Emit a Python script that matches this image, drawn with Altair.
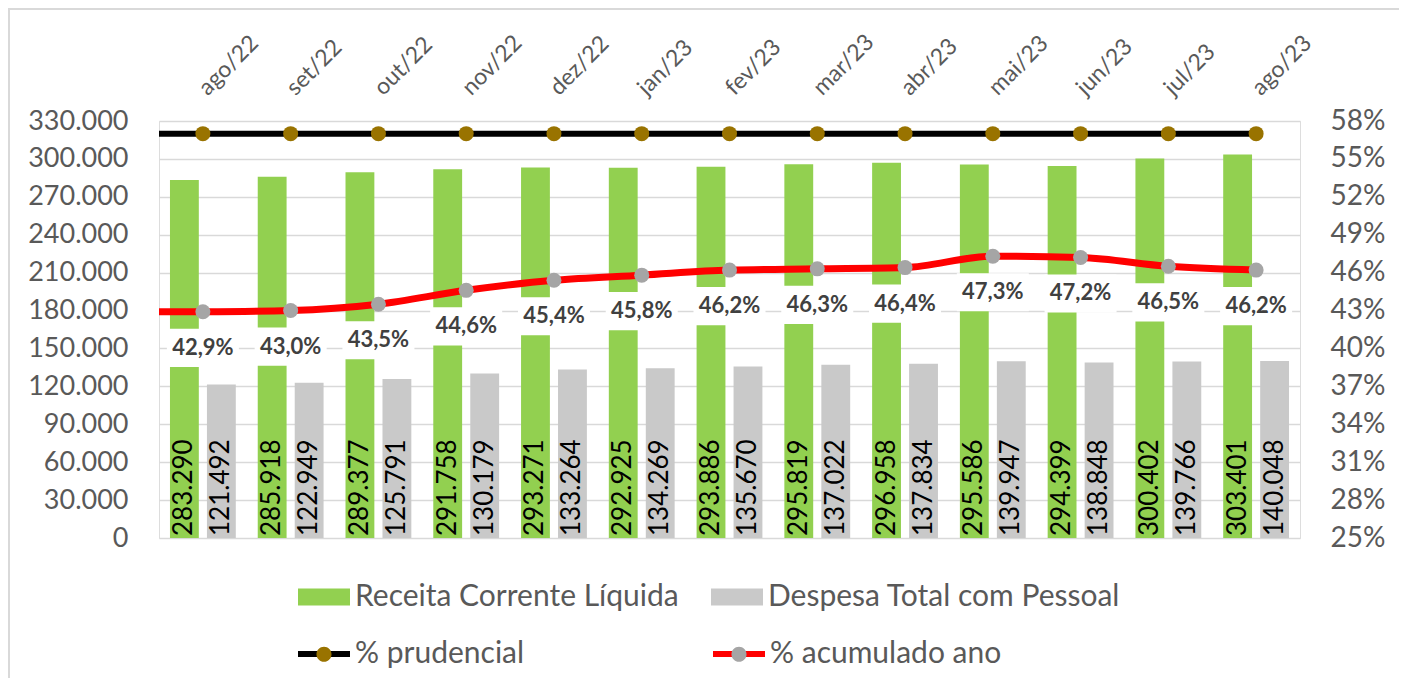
import altair as alt
import pandas as pd

# ---------------- data ----------------
meses = ["ago/22", "set/22", "out/22", "nov/22", "dez/22", "jan/23", "fev/23",
         "mar/23", "abr/23", "mai/23", "jun/23", "jul/23", "ago/23"]
rcl = [283290, 285918, 289377, 291758, 293271, 292925, 293886,
       295819, 296958, 295586, 294399, 300402, 303401]
dtp = [121492, 122949, 125791, 130179, 133264, 134269, 135670,
       137022, 137834, 139947, 138848, 139766, 140048]
pct_acumulado = [42.9, 43.0, 43.5, 44.6, 45.4, 45.8, 46.2,
                 46.3, 46.4, 47.3, 47.2, 46.5, 46.2]
pct_prudencial = [57.0, 57.0, 57.0, 57.0, 57.0, 57.0, 57.0,
                  57.0, 57.0, 57.0, 57.0, 57.0, 57.0]

serie_rcl = "Receita Corrente Líquida"
serie_dtp = "Despesa Total com Pessoal"
linha_prud = "% prudencial"
linha_acum = "% acumulado ano"

left_ticks = list(range(0, 330001, 30000))
right_ticks = [v / 100 for v in range(25, 59, 3)]


def fmt_milhar(v):
    return f"{v:,}".replace(",", ".")


def fmt_pct(v):
    return f"{v:.1f}".replace(".", ",") + "%"


bar_rows = []
for m, a, b in zip(meses, rcl, dtp):
    bar_rows.append({"mes": m, "serie": serie_rcl, "valor": a, "base": 0,
                     "rotulo": fmt_milhar(a)})
    bar_rows.append({"mes": m, "serie": serie_dtp, "valor": b, "base": 0,
                     "rotulo": fmt_milhar(b)})
bars_df = pd.DataFrame(bar_rows)

prud_df = pd.DataFrame({"mes": meses, "linha": linha_prud, "ponto": "p_prud",
                        "pct": [v / 100 for v in pct_prudencial]})
acum_df = pd.DataFrame({"mes": meses, "linha": linha_acum, "ponto": "p_acum",
                        "pct": [v / 100 for v in pct_acumulado],
                        "rotulo": [fmt_pct(v) for v in pct_acumulado]})

FONT = "Lato"
GREY_TXT = "#595959"

# ---------------- encodings ----------------
x_enc = alt.X(
    "mes:N", sort=meses,
    scale=alt.Scale(paddingInner=0.25, paddingOuter=0.125),
    axis=alt.Axis(orient="top", labelAngle=-45, labelAlign="left", labelBaseline="middle",
                  labelFontSize=23, labelColor=GREY_TXT, labelFont=FONT, labelPadding=30,
                  labelOverlap=False, ticks=False, domain=False, grid=False, title=None),
)
xoff_enc = alt.XOffset("serie:N", sort=[serie_rcl, serie_dtp],
                       scale=alt.Scale(paddingInner=0.22, paddingOuter=0))

left_scale = alt.Scale(domain=[0, 330000], nice=False, zero=True)
left_axis = alt.Axis(orient="left", values=left_ticks,
                     labelExpr="replace(format(datum.value, ','), ',', '.')",
                     grid=True, gridColor="#D9D9D9", gridWidth=1.3, domain=False, ticks=False,
                     labelOverlap=False, labelPadding=31, labelFontSize=27,
                     labelColor=GREY_TXT, labelFont=FONT, title=None)
y_left = alt.Y("valor:Q", scale=left_scale, axis=left_axis)
y_left_base = alt.Y("base:Q", scale=left_scale, axis=left_axis)

y_right = alt.Y(
    "pct:Q",
    scale=alt.Scale(domain=[0.25, 0.58], nice=False, zero=False),
    axis=alt.Axis(orient="right", values=right_ticks, format=".0%", grid=False,
                  domain=False, ticks=False, labelOverlap=False, labelPadding=30,
                  labelFontSize=28, labelColor=GREY_TXT, labelFont=FONT, title=None),
)

legend_common = dict(orient="none", direction="horizontal", title=None,
                     labelFontSize=30, labelColor=GREY_TXT, labelFont=FONT,
                     labelLimit=700, symbolSize=2704)

color_enc = alt.Color(
    "serie:N",
    scale=alt.Scale(domain=[serie_rcl, serie_dtp], range=["#92D050", "#C9C9C9"]),
    legend=alt.Legend(legendX=139, legendY=450, columnPadding=32, labelOffset=5,
                      symbolType="M-1,-0.33L1,-0.33L1,0.33L-1,0.33Z", symbolStrokeWidth=0,
                      **legend_common),
)
stroke_enc = alt.Stroke(
    "linha:N",
    scale=alt.Scale(domain=[linha_prud, linha_acum], range=["#000000", "#FF0000"]),
    legend=alt.Legend(legendX=136, legendY=504, columnPadding=176, labelOffset=2,
                      symbolType="M-1,0L1,0", symbolStrokeWidth=6,
                      symbolFillColor="transparent", **legend_common),
)
fill_enc = alt.Fill(
    "ponto:N",
    scale=alt.Scale(domain=["p_prud", "p_acum"], range=["#997300", "#A5A5A5"]),
    legend=alt.Legend(legendX=136, legendY=504, columnPadding=176, labelOffset=2,
                      symbolType=("M-1,0L1,0"
                                  "M-0.29,0A0.29,0.29 0 1,0 0.29,0A0.29,0.29 0 1,0 -0.29,0Z"),
                      symbolStrokeWidth=6, symbolStrokeColor="transparent", symbolOpacity=1,
                      labelExpr="datum.label == 'p_prud' ? '% prudencial' : '% acumulado ano'",
                      **{**legend_common, "labelColor": "transparent"}),
)

# ---------------- left (bars) ----------------
bars = alt.Chart(bars_df).mark_bar().encode(
    x=x_enc, xOffset=xoff_enc, y=y_left, color=color_enc
)
bar_txt = alt.Chart(bars_df).mark_text(
    angle=270, align="left", baseline="middle", dx=2, fontSize=26, color="#000000", font=FONT
).encode(x=x_enc, xOffset=xoff_enc, y=y_left_base, text="rotulo:N")

left = alt.layer(bars, bar_txt)

# ---------------- right (lines) ----------------
# lead-in segments from the plot's left edge to the first month (as in the original)
prud_lead = alt.Chart(prud_df.head(1)).mark_rule(strokeWidth=6, color="#000000").encode(
    x=x_enc, x2=alt.value(0), y=y_right)
acum_lead = alt.Chart(acum_df.head(1)).mark_rule(strokeWidth=7, color="#FF0000").encode(
    x=x_enc, x2=alt.value(0), y=y_right)

prud_line = alt.Chart(prud_df).mark_line(strokeWidth=6).encode(
    x=x_enc, y=y_right, stroke=stroke_enc)
prud_pts = alt.Chart(prud_df).mark_circle(size=225, opacity=1).encode(
    x=x_enc, y=y_right, fill=fill_enc)
boxes = alt.Chart(acum_df).mark_point(
    shape="M-1,-0.53L1,-0.53L1,0.53L-1,0.53Z", size=5184, filled=True,
    fill="#FFFFFF", opacity=1, strokeWidth=0, yOffset=36
).encode(x=x_enc, y=y_right)
acum_line = alt.Chart(acum_df).mark_line(strokeWidth=7, interpolate="monotone").encode(
    x=x_enc, y=y_right, stroke=stroke_enc)
acum_pts = alt.Chart(acum_df).mark_circle(size=225, opacity=1).encode(
    x=x_enc, y=y_right, fill=fill_enc)
acum_txt = alt.Chart(acum_df).mark_text(
    dy=36, fontSize=22, fontWeight="bold", color="#404040", font=FONT
).encode(x=x_enc, y=y_right, text="rotulo:N")

right = alt.layer(prud_lead, prud_line, prud_pts, boxes, acum_lead, acum_line,
                  acum_pts, acum_txt)

# ---------------- frame ----------------
frame = alt.Chart(alt.Data(values=[{}])).mark_rect(
    fill="transparent", stroke="#D9D9D9", strokeWidth=2
).encode(x=alt.value(-150), x2=alt.value(1243), y=alt.value(-112), y2=alt.value(560))

chart = (
    alt.layer(left, right, frame)
    .resolve_scale(y="independent")
    .properties(width=1141, height=417,
                autosize=alt.AutoSizeParams(type="none"),
                padding={"left": 151, "top": 113, "right": 99, "bottom": 140},
                background="#FFFFFF")
    .configure_view(stroke=None)
    .configure(font=FONT)
)

chart.save("out.html", embed_options={"renderer": "svg", "actions": False})
